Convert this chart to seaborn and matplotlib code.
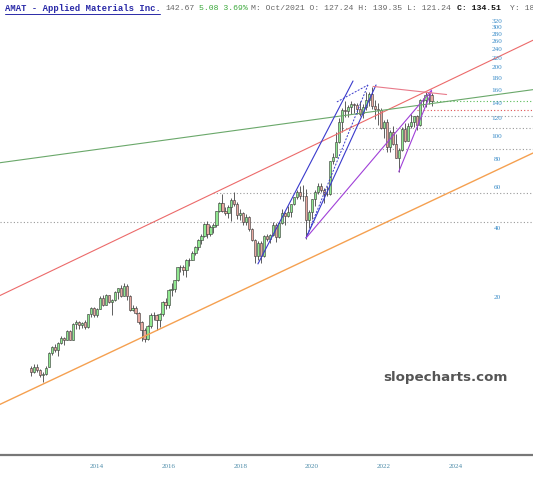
import matplotlib
matplotlib.use("Agg")
import matplotlib.pyplot as plt
import matplotlib.transforms as mtransforms
from matplotlib.lines import Line2D
import seaborn as sns

# monthly candles, first one is Jul 2012 (index 0)
opens = [9.85, 9.37, 9.93, 9.61, 9.12, 9.23,
         9.95, 11.40, 12.09, 11.73, 12.62, 13.22, 12.96, 14.27, 13.05, 15.23, 15.49, 15.05,
         15.58, 14.78, 16.81, 17.95, 16.72, 17.78, 19.89, 18.48, 20.33, 19.01, 19.45, 21.12,
         21.91, 20.29, 22.25, 20.11, 17.62, 17.89, 17.09, 15.49, 14.33, 13.08, 14.95, 16.73,
         16.64, 15.84, 16.92, 19.08, 18.45, 21.51, 21.60, 23.67, 26.91, 27.18, 26.19, 28.98,
         29.16, 31.21, 32.94, 35.40, 36.95, 41.77, 37.58, 40.31, 41.04, 47.41, 51.32, 47.59,
         46.50, 49.31, 52.99, 51.15, 45.72, 46.74, 42.50, 44.71, 39.56, 35.60, 30.27, 34.32,
         30.08, 36.75, 36.00, 37.32, 41.45, 36.66, 42.21, 46.44, 45.12, 46.91, 51.04, 54.43,
         57.34, 55.10, 55.20, 43.51, 47.22, 53.39, 57.48, 61.09, 58.52, 56.53, 56.24, 78.28,
         81.99, 94.8, 115.8, 130.9, 130.0, 135.3, 139.6, 137.1, 132.4, 127.24, 134.51, 144.3,
         154.2, 136.8, 132.9, 130.5, 109.2, 116.1, 90.1, 104.9, 93.2, 81.1, 87.4, 108.5,
         96.4, 111.5, 116.2, 122.8, 113.0, 144.4, 144.5, 151.6, 152.8]
highs = [9.98, 10.23, 10.23, 9.72, 9.37, 9.98,
         11.57, 12.18, 12.44, 12.70, 13.57, 13.40, 14.36, 14.36, 15.40, 15.83, 15.66, 15.49,
         15.84, 16.90, 18.13, 18.04, 17.86, 20.15, 20.42, 20.68, 20.50, 19.54, 21.30, 22.00,
         22.61, 23.05, 22.78, 20.47, 18.51, 18.25, 17.27, 15.75, 14.60, 15.13, 17.09, 17.18,
         16.92, 17.01, 19.17, 19.71, 21.69, 22.95, 23.76, 27.00, 27.54, 27.63, 29.25, 29.70,
         31.85, 33.49, 35.95, 37.86, 42.22, 42.77, 41.41, 41.95, 47.68, 51.78, 56.5, 49.60,
         50.42, 53.91, 57.41, 52.07, 48.39, 47.20, 46.00, 45.36, 40.20, 35.88, 35.24, 35.24,
         37.41, 37.60, 37.79, 42.68, 41.92, 42.58, 48.50, 46.91, 49.73, 51.14, 54.90, 58.56,
         60.80, 61.85, 59.47, 48.07, 53.77, 58.71, 62.89, 63.18, 59.66, 61.28, 78.85, 85.03,
         104.9, 120.5, 133.3, 143.1, 137.2, 143.1, 141.1, 141.1, 143.1, 139.35, 157.0, 156.5,
         165.4, 145.0, 140.0, 134.0, 119.0, 119.5, 107.0, 111.5, 102.5, 89.0, 110.5, 114.5,
         115.5, 126.0, 123.5, 124.5, 147.0, 147.5, 157.0, 155.0, 156.0]
lows = [9.03, 9.29, 9.37, 8.94, 8.50, 9.12,
        9.92, 11.22, 11.48, 11.05, 12.53, 12.35, 12.96, 12.96, 12.96, 14.44, 14.44, 14.62,
        14.52, 14.61, 16.37, 16.37, 16.37, 17.69, 18.30, 18.39, 18.92, 16.72, 19.18, 19.62,
        19.94, 20.11, 19.49, 17.44, 17.36, 16.82, 15.22, 12.91, 12.73, 12.99, 14.69, 15.84,
        14.30, 14.85, 16.56, 17.82, 17.91, 20.16, 20.97, 23.49, 25.74, 24.93, 24.39, 27.45,
        28.94, 30.58, 32.21, 34.13, 36.40, 36.31, 36.86, 38.04, 40.40, 46.87, 47.23, 45.41,
        44.25, 42.80, 49.68, 43.70, 43.24, 41.22, 41.12, 38.82, 35.05, 28.24, 28.98, 28.15,
        30.00, 35.06, 34.59, 37.04, 34.78, 36.10, 41.83, 41.17, 44.56, 44.74, 50.38, 53.77,
        53.39, 52.25, 35.80, 40.09, 43.61, 50.16, 56.05, 57.48, 51.68, 55.10, 55.86, 76.00,
        81.50, 94.1, 104.9, 122.5, 121.5, 125.4, 127.4, 126.4, 123.5, 121.24, 131.5, 136.0,
        132.0, 120.0, 113.0, 108.0, 99.0, 86.3, 86.0, 92.4, 80.5, 70.4, 86.9, 95.1,
        95.9, 109.5, 110.5, 107.2, 111.5, 135.0, 134.8, 138.5, 136.0]
closes = [9.37, 9.93, 9.61, 9.12, 9.23, 9.84,
          11.40, 12.09, 11.73, 12.62, 13.22, 12.96, 14.27, 13.05, 15.23, 15.49, 15.05, 15.40,
          14.78, 16.81, 17.95, 16.72, 17.78, 19.89, 18.48, 20.33, 19.01, 19.45, 21.12, 21.91,
          20.29, 22.25, 20.11, 17.62, 17.89, 17.09, 15.49, 14.33, 13.08, 14.95, 16.73, 16.64,
          15.84, 16.92, 19.08, 18.45, 21.51, 21.60, 23.67, 26.91, 27.18, 26.19, 28.98, 29.16,
          31.21, 32.94, 35.40, 36.95, 41.77, 37.58, 40.31, 41.04, 47.41, 51.32, 47.59, 46.50,
          49.31, 52.99, 51.15, 45.72, 46.74, 42.50, 44.71, 39.56, 35.60, 30.27, 34.32, 30.08,
          36.75, 36.00, 37.32, 41.45, 36.66, 42.21, 46.44, 45.12, 46.91, 51.04, 54.43, 57.34,
          55.10, 55.20, 43.51, 47.22, 53.39, 57.48, 61.09, 58.52, 56.53, 56.24, 78.28, 81.99,
          94.8, 115.8, 130.9, 130.0, 135.3, 139.6, 137.1, 132.4, 126.1, 134.51, 144.3, 154.2,
          136.8, 132.9, 130.5, 109.2, 116.1, 90.1, 104.9, 93.2, 81.1, 87.4, 108.5, 96.4,
          111.5, 116.2, 122.8, 113.0, 144.4, 144.5, 151.6, 152.8, 142.67]

year_labels = [2014, 2016, 2018, 2020, 2022, 2024]
price_labels = [20, 40, 60, 80, 100, 120, 140, 160, 180, 200, 220, 240, 260, 280, 300, 320]

# drawn trend lines: (start month index, start price, end month index, end price)
red_line = (-10.4, 20.3, 167.9, 264.0)
green_line = (-10.4, 77.1, 167.9, 160.7)
orange_line = (-10.4, 6.8, 167.9, 85.0)
blue_lines = [(75.9, 27.9, 107.7, 175.3), (92.0, 36.2, 115.4, 168.4)]
blue_dotted = [(92.0, 36.2, 112.7, 168.4), (102.3, 142.0, 112.7, 168.4)]
purple_lines = [(92.0, 36.2, 134.0, 160.0), (123.0, 70.4, 134.0, 158.0)]
pink_line = (114.4, 166.0, 139.0, 153.0)
# horizontal levels: (price, start month index, colour)
levels = [(142.67, 131.0, "#55bb55"), (130.9, 129.0, "#e05050"), (123.3, 127.0, "#999999"),
          (109.3, 103.0, "#999999"), (88.5, 103.0, "#999999"), (57.1, 60.9, "#999999"),
          (42.6, -10.4, "#999999")]

sns.set_style("white")
plt.rcParams["font.family"] = ["DejaVu Sans"]

fig = plt.figure(figsize=(5.33, 4.8), dpi=100)
ax = fig.add_axes([0, 25 / 480, 1, 443 / 480])
ax.set_yscale("log")
ax.set_xlim(-10.37, 167.9)
ax.set_ylim(4.09, 350.6)

for price, start, col in levels:
    ax.hlines(price, start, 167.9, colors=col, linestyles=(0, (1, 2)), linewidth=0.8, zorder=1)

# candles
for i in range(len(closes)):
    o, h, l, c = opens[i], highs[i], lows[i], closes[i]
    up = c >= o
    ax.vlines(i, l, h, color="#444444", linewidth=0.6, zorder=2)
    ax.bar(i, abs(c - o) if abs(c - o) > 0.01 else 0.05, bottom=min(o, c), width=0.78,
           color="#90e890" if up else "#e8a8a0", edgecolor="#333333", linewidth=0.4, zorder=3)


def seg(line, color, ls="-", lw=0.8):
    x0, p0, x1, p1 = line
    sns.lineplot(x=[x0, x1], y=[p0, p1], ax=ax, color=color, linestyle=ls, linewidth=lw, zorder=4)


seg(red_line, "#ec6a6a")
seg(green_line, "#6aa86a")
seg(orange_line, "#f5a050", lw=1.0)
for ln in blue_lines:
    seg(ln, "#3a3acc")
for ln in blue_dotted:
    seg(ln, "#3a3acc", ls=(0, (2, 1.5)), lw=0.7)
for ln in purple_lines:
    seg(ln, "#a040d8")
seg(pink_line, "#e87a8a")

# axes cosmetics
for s in ["left", "right", "top"]:
    ax.spines[s].set_visible(False)
ax.spines["bottom"].set_color("#777777")
ax.spines["bottom"].set_linewidth(1.6)
ax.set_yticks([])
ax.minorticks_off()
ax.set_xticks([(y - 2012) * 12 - 2 for y in year_labels])
ax.set_xticklabels([str(y) for y in year_labels], fontsize=5.0, color="#4a8aa8",
                   family="Liberation Serif")
ax.tick_params(axis="x", length=0, pad=6.5)
trans = mtransforms.blended_transform_factory(ax.transAxes, ax.transData)
for p in price_labels:
    ax.text(497 / 533, p, str(p), transform=trans, ha="center", va="center",
            fontsize=5.2, color="#3a8cc8", family="Liberation Serif", zorder=5)

# header line
ty = 1 - 8.5 / 480
mono = "Liberation Mono"
fig.text(5 / 533, ty, "AMAT - Applied Materials Inc.", family=mono, fontsize=6.4,
         fontweight="bold", color="#2a2aa8", va="center")
fig.add_artist(Line2D([5 / 533, 160 / 533], [1 - 13.5 / 480, 1 - 13.5 / 480],
                      color="#2a2aa8", linewidth=0.7))
fig.text(165 / 533, ty, "142.67", family=mono, fontsize=5.9, color="#666666", va="center")
fig.text(199 / 533, ty, "5.08 3.69%", family=mono, fontsize=5.9, color="#3aa83a", va="center")
fig.text(251 / 533, ty, "M: Oct/2021 O: 127.24 H: 139.35 L: 121.24", family=mono,
         fontsize=5.9, color="#666666", va="center")
fig.text(457 / 533, ty, "C: 134.51", family=mono, fontsize=5.9, fontweight="bold",
         color="#111111", va="center")
fig.text(510 / 533, ty, "Y: 18", family=mono, fontsize=5.9, color="#666666", va="center")

fig.text(445 / 533, 1 - 377 / 480, "slopecharts.com", ha="center", va="center",
         fontsize=9.6, fontweight="bold", color="#555555")

fig.savefig("out.png", dpi=100)
